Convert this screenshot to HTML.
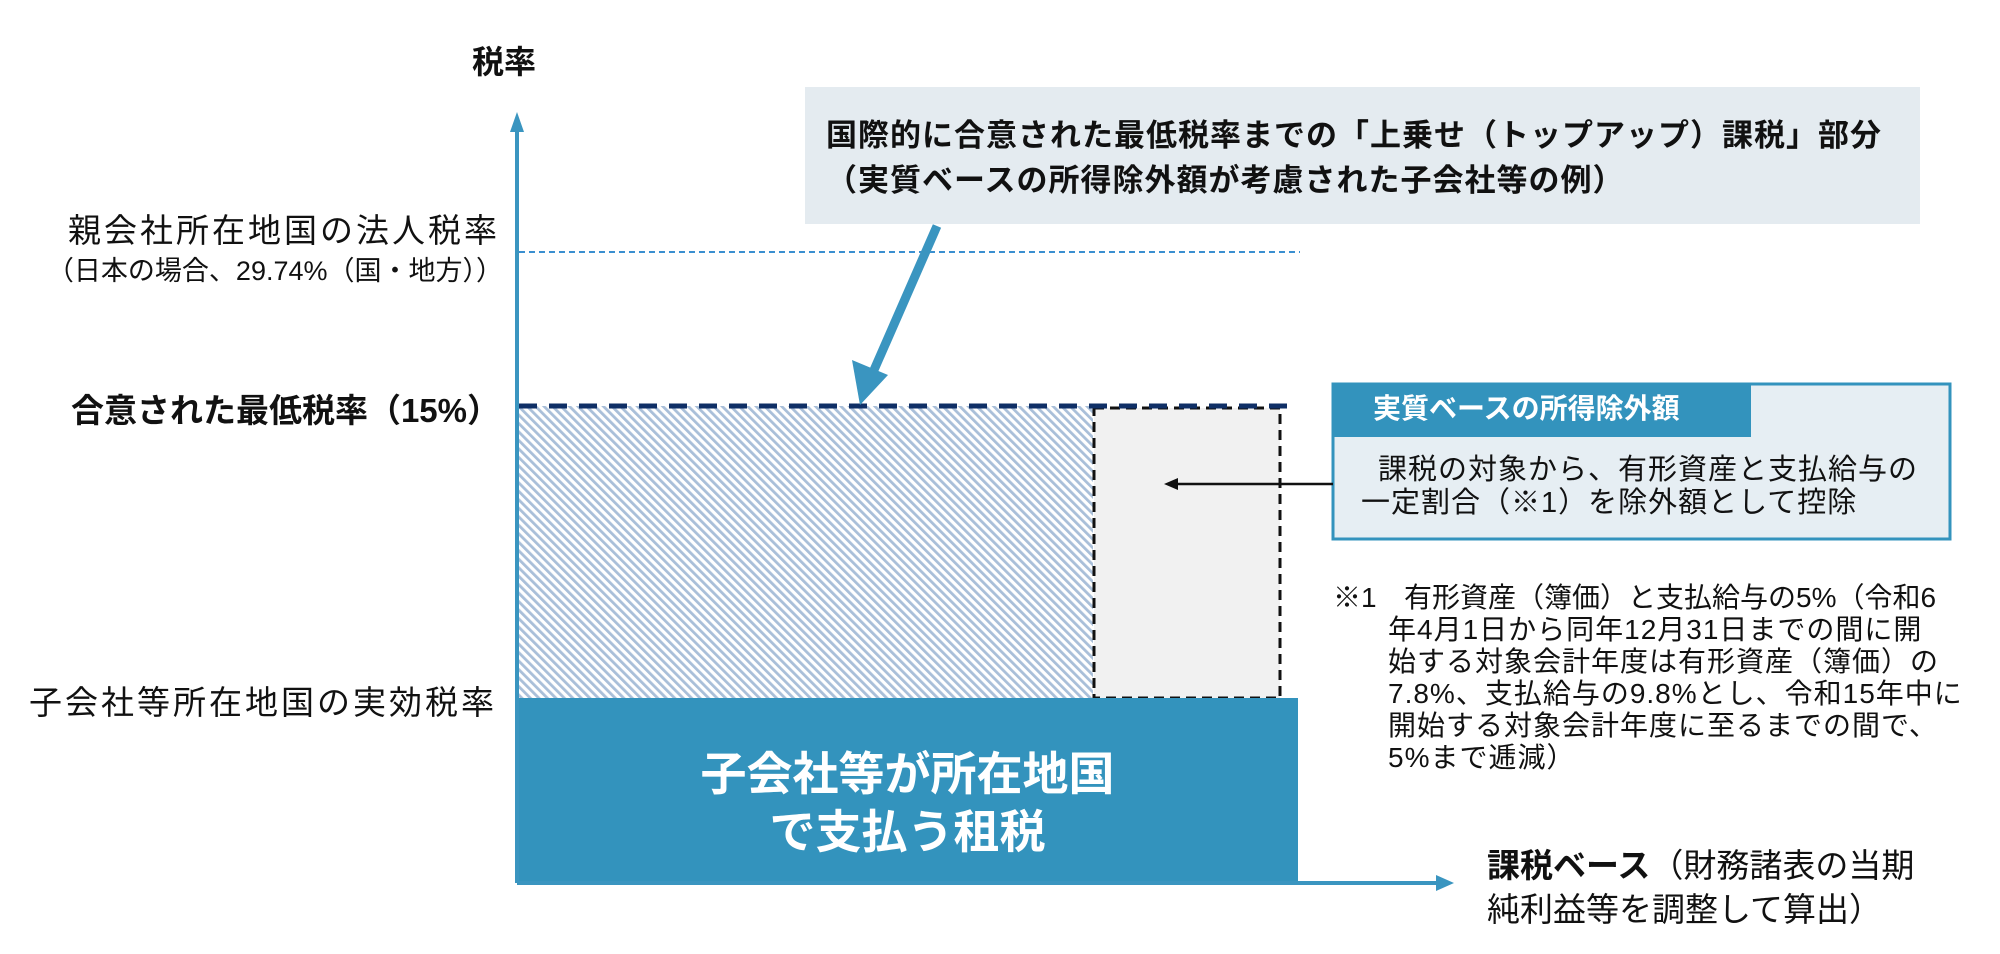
<!DOCTYPE html>
<html><head><meta charset="utf-8">
<style>
html,body{margin:0;padding:0;background:#fff;}
#c{position:relative;width:2000px;height:954px;overflow:hidden;font-family:"Liberation Sans","Noto Sans CJK JP",sans-serif;color:#111;}
.t{position:absolute;white-space:nowrap;line-height:1;}
.b{font-weight:700;}
</style></head><body><div id="c">
<svg width="2000" height="954" style="position:absolute;left:0;top:0">
<defs>
<pattern id="h" width="6" height="6" patternUnits="userSpaceOnUse" patternTransform="rotate(-45)">
<rect width="6" height="6" fill="#fff"/><rect x="0" y="0" width="2.8" height="6" fill="#a9bfd9"/>
</pattern>
</defs>
<rect x="805" y="87" width="1115" height="137" fill="#e4ebf0"/>
<rect x="517" y="406" width="576" height="292" fill="url(#h)"/>
<rect x="1094" y="408" width="186" height="290" fill="#f1f1f1" stroke="#111" stroke-width="3" stroke-dasharray="10,6"/>
<rect x="517" y="698" width="781" height="185" fill="#3393bd"/>
<line x1="519" y1="252" x2="1300" y2="252" stroke="#3a8fd0" stroke-width="2" stroke-dasharray="6,4"/>
<line x1="519" y1="406" x2="1295" y2="406" stroke="#0f2f66" stroke-width="5" stroke-dasharray="18,12"/>
<line x1="517" y1="125" x2="517" y2="883" stroke="#3a95c0" stroke-width="4"/>
<polygon points="517,112 510,132 524,132" fill="#3a95c0"/>
<line x1="517" y1="883" x2="1438" y2="883" stroke="#3a95c0" stroke-width="4"/>
<polygon points="1454,883 1436,875 1436,891" fill="#3a95c0"/>
<line x1="937" y1="226" x2="874" y2="370" stroke="#3a95c0" stroke-width="9"/>
<polygon points="860,405 852,360 888,375" fill="#3a95c0"/>
<rect x="1333" y="384" width="617" height="155" fill="#e6eef3" stroke="#3393bd" stroke-width="3"/>
<rect x="1333" y="384" width="418" height="53" fill="#3393bd"/>
<line x1="1333" y1="484" x2="1175" y2="484" stroke="#111" stroke-width="2.5"/>
<polygon points="1164,484 1178,478 1178,490" fill="#111"/>
</svg>

<div class="t b" style="left:472px;top:46px;font-size:32px;">税率</div>

<div class="t b" style="left:826px;top:120px;font-size:31px;letter-spacing:1px;">国際的に合意された最低税率までの「上乗せ（トップアップ）課税」部分</div>
<div class="t b" style="left:826px;top:165px;font-size:31px;letter-spacing:1px;">（実質ベースの所得除外額が考慮された子会社等の例）</div>

<div class="t" style="right:1500px;top:214px;font-size:33px;letter-spacing:3px;">親会社所在地国の法人税率</div>
<div class="t" style="right:1497px;top:258px;font-size:27px;">（日本の場合、29.74%（国・地方））</div>
<div class="t b" style="right:1500px;top:394px;font-size:33px;">合意された最低税率（15%）</div>
<div class="t" style="right:1503px;top:686px;font-size:33px;letter-spacing:3px;">子会社等所在地国の実効税率</div>

<div class="t b" style="left:517px;width:781px;top:745px;font-size:46px;color:#fff;text-align:center;line-height:58px;">子会社等が所在地国<br>で支払う租税</div>

<div class="t b" style="left:1373px;top:395px;font-size:28px;color:#fff;">実質ベースの所得除外額</div>
<div class="t" style="left:1378px;top:456px;font-size:29px;letter-spacing:1px;">課税の対象から、有形資産と支払給与の</div>
<div class="t" style="left:1361px;top:489px;font-size:29px;letter-spacing:1px;">一定割合（※1）を除外額として控除</div>

<div class="t" style="left:1333px;top:582px;font-size:28px;line-height:32px;">※1</div>
<div class="t" style="left:1404px;top:582px;font-size:28px;line-height:32px;">有形資産（簿価）と支払給与の5%（令和6</div>
<div class="t" style="left:1388px;top:614px;font-size:28px;line-height:32px;letter-spacing:1px;">年4月1日から同年12月31日までの間に開<br>始する対象会計年度は有形資産（簿価）の<br>7.8%、支払給与の9.8%とし、令和15年中に<br>開始する対象会計年度に至るまでの間で、<br>5%まで逓減）</div>

<div class="t" style="left:1487px;top:844px;font-size:33px;line-height:44px;"><span class="b">課税ベース</span>（財務諸表の当期<br>純利益等を調整して算出）</div>
</div></body></html>
